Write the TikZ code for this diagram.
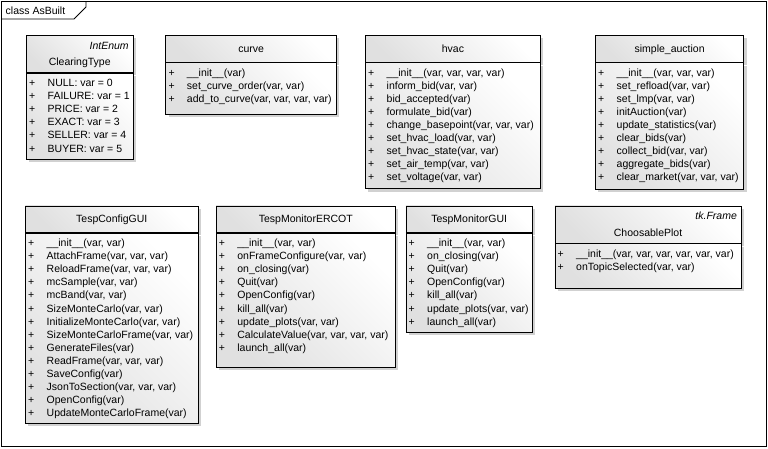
\documentclass[tikz,border=0pt]{standalone}
\usepackage{fontspec}
\setmainfont{Liberation Sans}
\usetikzlibrary{positioning, calc, shadows}
\newcommand{\umlop}[1]{\strut\makebox[18.5pt][l]{+}#1}
\tikzset{
    classbox/.style={
        rectangle,
        draw=black,
        line width=0.9pt,
        top color=white,
        bottom color=black!12,
        shading angle=-45,
        drop shadow={shadow xshift=3pt, shadow yshift=-3pt, fill=black!18, opacity=1},
        inner sep=0pt,
        anchor=north west
    },
    classhead/.style={
        classbox,
        minimum height=26.5pt,
        text height=9pt,
        text depth=1.5pt,
        font=\fontsize{10.5}{13.1}\selectfont
    },
    classbody/.style={
        classbox
    },
    oplist/.style={
        inner sep=0pt,
        anchor=north west,
        align=left,
        font=\fontsize{10.5}{13.1}\selectfont
    },
    stereo/.style={
        inner sep=0pt,
        anchor=east,
        font=\fontsize{10.5}{13.1}\selectfont\itshape
    }
}

\begin{document}
\begin{tikzpicture}[x=1pt, y=-1pt]

    \useasboundingbox (0,0) rectangle (768,448);

    % Frame
    \draw [line width=0.9pt] (1.5,1.5) rectangle (766,446.5);
    \draw [line width=0.9pt] (86,1.5) -- (86,7) -- (74,19) -- (1.5,19);
    \node (frame) [anchor=base west, inner sep=0pt, font=\fontsize{10.5}{13.1}\selectfont] at (5.5,14.5) {class AsBuilt};

    % ClearingType
    \node (ct head) [classhead, minimum width=106.5pt, minimum height=37pt, text height=25pt, text depth=1.4pt] at (26,35) {ClearingType};
    \node (ct stereo) [stereo] at ($(ct head.north east)+(-4.5,10.5)$) {IntEnum};
    \node (ct body) [classbody, minimum width=106.5pt, minimum height=86pt, below=0pt of ct head] {};
    \node (ct list) [oplist] at ($(ct body.north west)+(3,4.3)$) {
        \umlop{NULL: var = 0}\\
        \umlop{FAILURE: var = 1}\\
        \umlop{PRICE: var = 2}\\
        \umlop{EXACT: var = 3}\\
        \umlop{SELLER: var = 4}\\
        \umlop{BUYER: var = 5}
    };

    % curve
    \node (cv head) [classhead, minimum width=170.7pt] at (165.3,35) {curve};
    \node (cv body) [classbody, minimum width=170.7pt, minimum height=51.5pt, below=0pt of cv head] {};
    \node (cv list) [oplist] at ($(cv body.north west)+(3,4.3)$) {
        \umlop{\_\_init\_\_(var)}\\
        \umlop{set\_curve\_order(var, var)}\\
        \umlop{add\_to\_curve(var, var, var, var)}
    };

    % hvac
    \node (hv head) [classhead, minimum width=175pt] at (365,35) {hvac};
    \node (hv body) [classbody, minimum width=175pt, minimum height=126pt, below=0pt of hv head] {};
    \node (hv list) [oplist] at ($(hv body.north west)+(3,4.3)$) {
        \umlop{\_\_init\_\_(var, var, var, var)}\\
        \umlop{inform\_bid(var, var)}\\
        \umlop{bid\_accepted(var)}\\
        \umlop{formulate\_bid(var)}\\
        \umlop{change\_basepoint(var, var, var)}\\
        \umlop{set\_hvac\_load(var, var)}\\
        \umlop{set\_hvac\_state(var, var)}\\
        \umlop{set\_air\_temp(var, var)}\\
        \umlop{set\_voltage(var, var)}
    };

    % simple_auction
    \node (sa head) [classhead, minimum width=148.3pt] at (595,35) {simple\_auction};
    \node (sa body) [classbody, minimum width=148.3pt, minimum height=126.3pt, below=0pt of sa head] {};
    \node (sa list) [oplist] at ($(sa body.north west)+(3,4.3)$) {
        \umlop{\_\_init\_\_(var, var, var)}\\
        \umlop{set\_refload(var, var)}\\
        \umlop{set\_lmp(var, var)}\\
        \umlop{initAuction(var)}\\
        \umlop{update\_statistics(var)}\\
        \umlop{clear\_bids(var)}\\
        \umlop{collect\_bid(var, var)}\\
        \umlop{aggregate\_bids(var)}\\
        \umlop{clear\_market(var, var, var)}
    };

    % TespConfigGUI
    \node (cg head) [classhead, minimum width=172.7pt] at (25,205.5) {TespConfigGUI};
    \node (cg body) [classbody, minimum width=172.7pt, minimum height=189.7pt, below=0pt of cg head] {};
    \node (cg list) [oplist] at ($(cg body.north west)+(3,4.3)$) {
        \umlop{\_\_init\_\_(var, var)}\\
        \umlop{AttachFrame(var, var, var)}\\
        \umlop{ReloadFrame(var, var, var)}\\
        \umlop{mcSample(var, var)}\\
        \umlop{mcBand(var, var)}\\
        \umlop{SizeMonteCarlo(var, var)}\\
        \umlop{InitializeMonteCarlo(var, var)}\\
        \umlop{SizeMonteCarloFrame(var, var)}\\
        \umlop{GenerateFiles(var)}\\
        \umlop{ReadFrame(var, var, var)}\\
        \umlop{SaveConfig(var)}\\
        \umlop{JsonToSection(var, var, var)}\\
        \umlop{OpenConfig(var)}\\
        \umlop{UpdateMonteCarloFrame(var)}
    };

    % TespMonitorERCOT
    \node (me head) [classhead, minimum width=179.3pt] at (215.7,205.5) {TespMonitorERCOT};
    \node (me body) [classbody, minimum width=179.3pt, minimum height=134pt, below=0pt of me head] {};
    \node (me list) [oplist] at ($(me body.north west)+(3,4.3)$) {
        \umlop{\_\_init\_\_(var, var)}\\
        \umlop{onFrameConfigure(var, var)}\\
        \umlop{on\_closing(var)}\\
        \umlop{Quit(var)}\\
        \umlop{OpenConfig(var)}\\
        \umlop{kill\_all(var)}\\
        \umlop{update\_plots(var, var)}\\
        \umlop{CalculateValue(var, var, var, var)}\\
        \umlop{launch\_all(var)}
    };

    % TespMonitorGUI
    \node (mg head) [classhead, minimum width=126.5pt] at (405.5,205.5) {TespMonitorGUI};
    \node (mg body) [classbody, minimum width=126.5pt, minimum height=98.7pt, below=0pt of mg head] {};
    \node (mg list) [oplist] at ($(mg body.north west)+(3,4.3)$) {
        \umlop{\_\_init\_\_(var, var)}\\
        \umlop{on\_closing(var)}\\
        \umlop{Quit(var)}\\
        \umlop{OpenConfig(var)}\\
        \umlop{kill\_all(var)}\\
        \umlop{update\_plots(var, var)}\\
        \umlop{launch\_all(var)}
    };

    % ChoosablePlot
    \node (cp head) [classhead, minimum width=186.2pt, minimum height=37pt, text height=25pt, text depth=1.4pt] at (554.5,205.5) {ChoosablePlot};
    \node (cp stereo) [stereo] at ($(cp head.north east)+(-4.5,10)$) {tk.Frame};
    \node (cp body) [classbody, minimum width=186.2pt, minimum height=44.5pt, below=0pt of cp head] {};
    \node (cp list) [oplist] at ($(cp body.north west)+(3,4.3)$) {
        \umlop{\_\_init\_\_(var, var, var, var, var, var)}\\
        \umlop{onTopicSelected(var, var)}
    };

\end{tikzpicture}
\end{document}
